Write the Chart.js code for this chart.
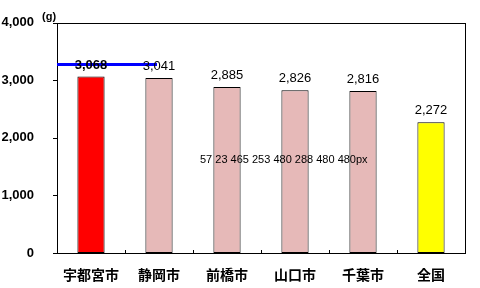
<!DOCTYPE html>
<html>
<head>
<meta charset="utf-8">
<script src="https://cdn.jsdelivr.net/npm/chart.js@4"></script>
<style>
    html, body { margin: 0; padding: 0; background: #fff; overflow: hidden; }
    canvas { display: block; }
</style>
</head>
<body>
<canvas id="chart" width="480" height="288"></canvas>
<script>
const cities = ['宇都宮市', '静岡市', '前橋市', '山口市', '千葉市', '全国'];
const amounts = [3068, 3041, 2885, 2826, 2816, 2272];
const barColors = ['#ff0000', '#e6b9b8', '#e6b9b8', '#e6b9b8', '#e6b9b8', '#ffff00'];
const yTicks = [0, 1000, 2000, 3000, 4000];

const fmt = n => n.toLocaleString('en-US');

const extras = {
    id: 'extras',
    afterDraw(chart) {
        const ctx = chart.ctx;
        const area = chart.chartArea;
        const meta = chart.getDatasetMeta(0);
        const x = chart.scales.x;
        const y = chart.scales.y;
        const l = Math.round(area.left), t = Math.round(area.top);
        const r = Math.round(area.right), b = Math.round(area.bottom);

        ctx.save();
        ctx.fillStyle = '#000';
        ctx.fillRect(l, t, r - l + 1, 1);
        ctx.fillRect(l, b, r - l + 1, 1);
        ctx.fillRect(l, t, 1, b - t + 1);
        ctx.fillRect(r, t, 1, b - t + 1);
        ctx.fillStyle = '#00f';
        ctx.fillRect(l, t + 40, 100, 3);

        ctx.fillStyle = '#000';
        for (let i = 1; i < cities.length; i++) {
            const px = Math.round((x.getPixelForValue(i - 1) + x.getPixelForValue(i)) / 2);
            ctx.fillRect(px, b - 3, 1, 3);
        }
        yTicks.forEach(v => ctx.fillRect(l - 4, Math.round(y.getPixelForValue(v)), 4, 1));

        ctx.textAlign = 'center';
        ctx.textBaseline = 'bottom';
        meta.data.forEach((bar, i) => {
            ctx.font = (i === 0 ? 'bold ' : '') + '13px "Liberation Sans", Arial, sans-serif';
            ctx.fillText(fmt(amounts[i]), bar.x, bar.y - 5);
        });

        ctx.font = 'bold 11px "Liberation Sans", Arial, sans-serif';
        ctx.textAlign = 'left';
        ctx.textBaseline = 'middle';
        ctx.fillText('(g)', l - 15, t - 6);
        ctx.font = '11px sans-serif';
        ctx.fillText([l, t, r, b, chart.width, chart.height, chart.canvas.width, chart.canvas.style.width].join(' '), 200, 160);
        ctx.restore();
    }
};

new Chart(document.getElementById('chart'), {
    type: 'bar',
    data: {
        labels: cities,
        datasets: [{
            data: amounts,
            backgroundColor: barColors,
            borderColor: '#000',
            borderWidth: 1,
            borderSkipped: false,
            barPercentage: 0.8,
            categoryPercentage: 0.5
        }]
    },
    options: {
        responsive: false,
        animation: false,
        layout: { padding: { left: 0, right: 15, top: 6, bottom: 0 } },
        plugins: {
            legend: { display: false },
            tooltip: { enabled: false }
        },
        scales: {
            x: {
                grid: { display: false },
                border: { display: false },
                ticks: {
                    color: '#000',
                    padding: 5,
                    font: { family: '"Noto Sans CJK JP"', size: 14, weight: 'bold' }
                },
                afterFit(scale) { scale.height = 35; }
            },
            y: {
                min: 0,
                max: 4000,
                afterBuildTicks(scale) { scale.ticks = yTicks.map(v => ({ value: v })); },
                grid: { display: false },
                border: { display: false },
                ticks: {
                    color: '#000',
                    padding: 15,
                    font: { family: '"Liberation Sans", Arial, sans-serif', size: 13, weight: 'bold' },
                    callback: v => fmt(v)
                },
                afterFit(scale) { scale.width = 57; }
            }
        }
    },
    plugins: [extras]
});
</script>
</body>
</html>
